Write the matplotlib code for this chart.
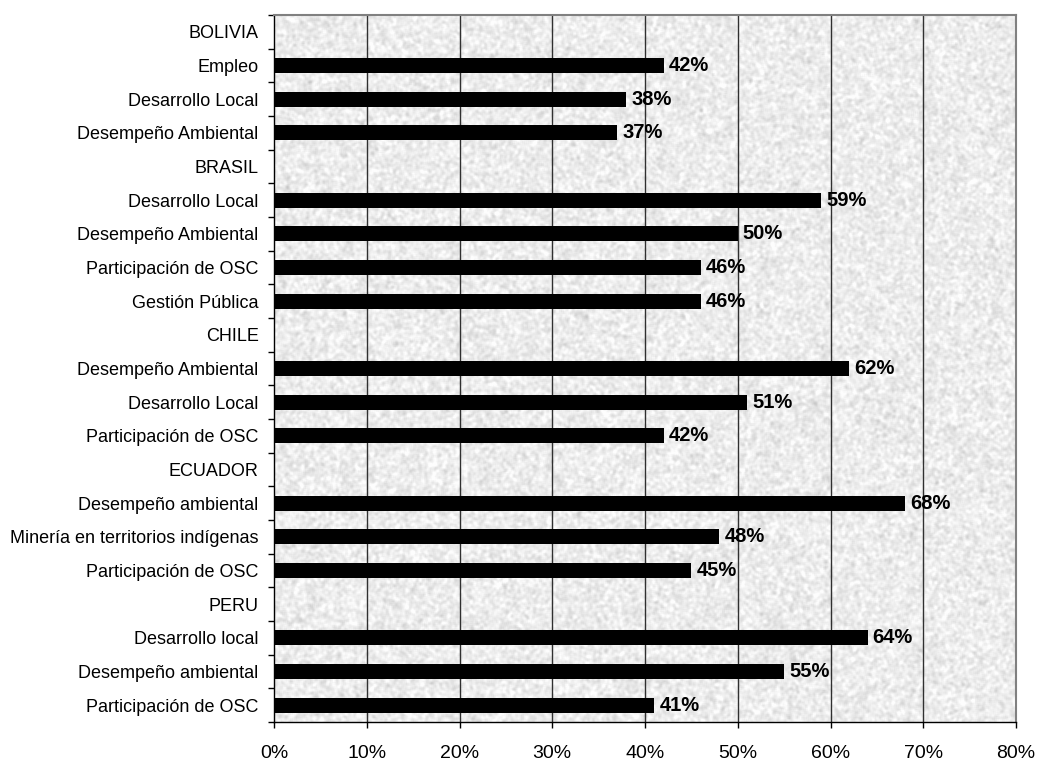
import matplotlib
matplotlib.use("Agg")
import matplotlib.pyplot as plt
import numpy as np

plt.rcParams['font.family'] = ['Liberation Sans', 'DejaVu Sans']

# rows from top to bottom; country headers have no bar
labels = ["BOLIVIA", "Empleo", "Desarrollo Local", "Desempeño Ambiental",
          "BRASIL", "Desarrollo Local", "Desempeño Ambiental",
          "Participación de OSC", "Gestión Pública",
          "CHILE", "Desempeño Ambiental", "Desarrollo Local", "Participación de OSC",
          "ECUADOR", "Desempeño ambiental", "Minería en territorios indígenas",
          "Participación de OSC",
          "PERU", "Desarrollo local", "Desempeño ambiental", "Participación de OSC"]
values = [None, 42, 38, 37,
          None, 59, 50, 46, 46,
          None, 62, 51, 42,
          None, 68, 48, 45,
          None, 64, 55, 41]
xticks = [0, 10, 20, 30, 40, 50, 60, 70, 80]

fig = plt.figure(figsize=(10.39, 7.62), dpi=100)
ax = fig.add_axes([274 / 1039, 40 / 762, 742 / 1039, 707 / 762])

n = len(labels)
ax.set_xlim(0, 80)
ax.set_ylim(n - 0.5, -0.5)

# light granite-like texture behind the bars
rng = np.random.default_rng(3)
tex = rng.normal(0, 1, (707, 742))
k = np.array([1, 2, 3, 2, 1]) / 9
tex = np.apply_along_axis(lambda r: np.convolve(r, k, mode="same"), 1, tex)
tex = np.apply_along_axis(lambda c: np.convolve(c, k, mode="same"), 0, tex)
tex = 0.925 + 0.032 * tex / tex.std()
ax.imshow(np.clip(tex, 0.78, 0.99), cmap="gray", vmin=0, vmax=1, aspect="auto",
          extent=(0, 80, n - 0.5, -0.5), zorder=0, interpolation="nearest")

for x in xticks[1:-1]:
    ax.axvline(x, color="#303030", lw=1.0, zorder=1)

for i, v in enumerate(values):
    if v is None:
        continue
    ax.barh(i, v, height=0.45, color="black", zorder=2)
    ax.text(v + 0.55, i, f"{v}%", va="center", ha="left", fontsize=14.5,
            fontweight="bold", zorder=3)

ax.set_yticks(range(n))
ax.set_yticklabels(labels, fontsize=13)
ax.set_yticks(np.arange(-0.5, n, 1), minor=True)
ax.tick_params(axis="y", which="major", length=0, pad=11)
ax.tick_params(axis="y", which="minor", length=4.3, width=1, direction="out")

ax.set_xticks(xticks)
ax.set_xticklabels([f"{t}%" for t in xticks], fontsize=14)
ax.tick_params(axis="x", length=4.3, width=1, direction="out", pad=12)

for s in ["top", "right"]:
    ax.spines[s].set_color("#808080")
    ax.spines[s].set_linewidth(1.5)
for s in ["left", "bottom"]:
    ax.spines[s].set_color("black")
    ax.spines[s].set_linewidth(1)

fig.savefig("out.png", dpi=100)
